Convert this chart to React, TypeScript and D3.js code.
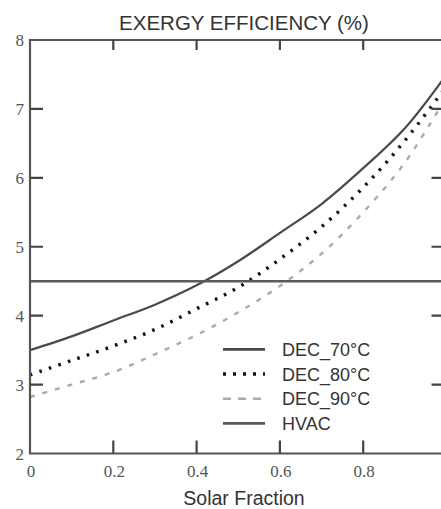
import React from "react";
import * as d3 from "d3";

const solarFraction = [0, 0.1, 0.2, 0.3, 0.4, 0.5, 0.6, 0.7, 0.8, 0.9, 1.0];
const dec70 = [3.5, 3.7, 3.93, 4.16, 4.44, 4.79, 5.2, 5.62, 6.14, 6.72, 7.5];
const dec80 = [3.14, 3.35, 3.56, 3.8, 4.1, 4.41, 4.82, 5.29, 5.86, 6.54, 7.33];
const dec90 = [2.82, 3.0, 3.18, 3.44, 3.72, 4.05, 4.43, 4.9, 5.5, 6.22, 7.18];
const hvacValue = 4.5;
const xTicks = [0, 0.2, 0.4, 0.6, 0.8];
const yTicks = [2, 3, 4, 5, 6, 7, 8];
const legendLabels = ["DEC_70°C", "DEC_80°C", "DEC_90°C", "HVAC"];

const W = 441;
const H = 509;
const PL = 30;
const PR = 446.5;
const PT = 40;
const PB = 453.5;

export default function App() {
  const x = d3.scaleLinear().domain([0, 1]).range([PL, PR]);
  const y = d3.scaleLinear().domain([2, 8]).range([PB, PT]);
  const line = d3
    .line<number>()
    .x((_, i) => x(solarFraction[i]))
    .y((d) => y(d))
    .curve(d3.curveCatmullRom.alpha(0.5));

  const styles = [
    { stroke: "#4a4a4a", width: 2.2, dash: undefined as string | undefined, legendDash: undefined as string | undefined },
    { stroke: "#111", width: 3.4, dash: "2.6 7.4", legendDash: "3 7" },
    { stroke: "#aaaaaa", width: 2.4, dash: "5 8", legendDash: "8 7" },
    { stroke: "#5a5a5a", width: 2.6, dash: undefined, legendDash: undefined },
  ];
  const series = [dec70, dec80, dec90];
  const axisColor = "#555";

  const innerX = xTicks.filter((t) => t > 0);
  const innerY = yTicks.filter((t) => t > 2 && t < 8);

  const tickPath = d3.path();
  innerX.forEach((t) => {
    tickPath.moveTo(x(t), PB);
    tickPath.lineTo(x(t), PB - 13);
    tickPath.moveTo(x(t), PT);
    tickPath.lineTo(x(t), PT + 10);
  });
  innerY.forEach((t) => {
    tickPath.moveTo(PL, y(t));
    tickPath.lineTo(PL + 13, y(t));
    tickPath.moveTo(PR - 2, y(t));
    tickPath.lineTo(PR - 15, y(t));
  });

  const framePath = d3.path();
  framePath.moveTo(PR - 2, PT);
  framePath.lineTo(PL, PT);
  framePath.lineTo(PL, PB);
  framePath.lineTo(PR - 2, PB);
  framePath.lineTo(PR - 2, PT);

  return (
    <svg
      width={W}
      height={H}
      style={{ position: "absolute", left: 0, top: 0, background: "#fff" }}
    >
      <text x={244} y={30} textAnchor="middle" fontFamily="Liberation Sans, Arial, sans-serif" fontSize={20.5} fill="#333">
        EXERGY EFFICIENCY (%)
      </text>

      {series.map((s, i) => (
        <path
          key={"s" + i}
          d={line(s) || ""}
          fill="none"
          stroke={styles[i].stroke}
          strokeWidth={styles[i].width}
          strokeDasharray={styles[i].dash}
        />
      ))}
      <line
        x1={x(0)}
        x2={x(1)}
        y1={y(hvacValue)}
        y2={y(hvacValue)}
        stroke={styles[3].stroke}
        strokeWidth={styles[3].width}
      />

      <path d={framePath.toString()} fill="none" stroke={axisColor} strokeWidth={2.2} />
      <path d={tickPath.toString()} fill="none" stroke="#444" strokeWidth={2.2} />

      {xTicks.map((t) => (
        <text key={"xl" + t} x={x(t) + 1} y={477} textAnchor="middle" fontFamily="serif" fontSize={17} fill="#555">
          {String(t)}
        </text>
      ))}
      {yTicks.map((t) => (
        <text key={"yt" + t} x={24} y={y(t) + 6} textAnchor="end" fontFamily="serif" fontSize={17} fill="#555">
          {String(t)}
        </text>
      ))}

      {legendLabels.map((lab, i) => (
        <line
          key={"ll" + i}
          x1={223}
          x2={265}
          y1={349.3 + i * 24.7}
          y2={349.3 + i * 24.7}
          stroke={styles[i].stroke}
          strokeWidth={i === 0 ? 2.8 : styles[i].width}
          strokeDasharray={styles[i].legendDash}
        />
      ))}
      {legendLabels.map((lab, i) => (
        <text key={"lt" + i} x={282} y={356 + i * 24.7} fontFamily="Liberation Sans, Arial, sans-serif" fontSize={18} fill="#333">
          {lab}
        </text>
      ))}

      <text x={244} y={505} textAnchor="middle" fontFamily="Liberation Sans, Arial, sans-serif" fontSize={19.5} fill="#333">
        Solar Fraction
      </text>
    </svg>
  );
}
